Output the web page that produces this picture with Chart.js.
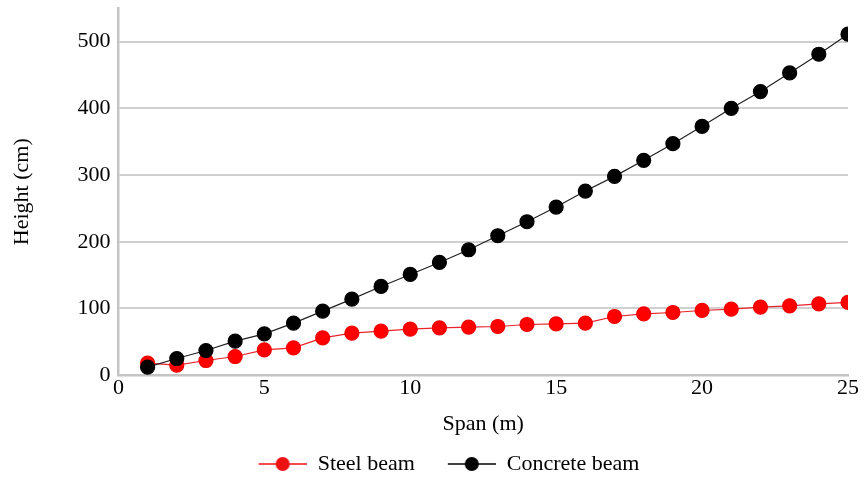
<!DOCTYPE html>
<html>
<head>
<meta charset="utf-8">
<script src="https://cdn.jsdelivr.net/npm/chart.js@4.4.0/dist/chart.umd.min.js"></script>
<style>
  html, body { margin: 0; padding: 0; background: #fff; }
  #wrap { width: 864px; height: 477px; }
</style>
</head>
<body>
<div id="wrap"><canvas id="beamChart" width="864" height="477"></canvas></div>
<script>
const spans = [1, 2, 3, 4, 5, 6, 7, 8, 9, 10, 11, 12, 13, 14, 15, 16, 17, 18, 19, 20, 21, 22, 23, 24, 25];
const steelBeam = [18, 15, 22, 28, 38, 41, 56, 63, 66, 69, 71, 72, 73, 76, 77, 78, 88, 92, 94, 97, 99, 102, 104, 107, 109];
const concreteBeam = [12, 25, 37, 51, 62, 78, 96, 114, 133, 151, 169, 188, 209, 230, 252, 276, 298, 322, 347, 373, 400, 425, 453, 481, 511];
const yTicks = [0, 100, 200, 300, 400, 500];

const serif = "'Liberation Serif', 'Times New Roman', serif";

// line + dot swatch for the legend (blank strip on the left = gap between items)
function legendMark(color) {
    const c = document.createElement('canvas');
    c.width = 78;
    c.height = 16;
    const g = c.getContext('2d');
    g.strokeStyle = color;
    g.lineWidth = 1.5;
    g.beginPath();
    g.moveTo(30, 8);
    g.lineTo(78, 8);
    g.stroke();
    g.fillStyle = color;
    g.beginPath();
    g.arc(54, 8, 7, 0, Math.PI * 2);
    g.fill();
    return c;
}

const ctx = document.getElementById('beamChart').getContext('2d');
new Chart(ctx, {
    type: 'line',
    data: {
        datasets: [{
            label: 'Steel beam',
            data: spans.map((s, i) => ({ x: s, y: steelBeam[i] })),
            borderColor: '#e8232a',
            backgroundColor: '#ff0000',
            pointBorderColor: '#ee0000',
            borderWidth: 1.2,
            pointRadius: 7,
            pointHoverRadius: 7,
            order: 1,
            legendImg: legendMark('#ee1111')
        }, {
            label: 'Concrete beam',
            data: spans.map((s, i) => ({ x: s, y: concreteBeam[i] })),
            borderColor: '#222',
            backgroundColor: '#000',
            pointBorderColor: '#000',
            borderWidth: 1.2,
            pointRadius: 7,
            pointHoverRadius: 7,
            order: 0,
            legendImg: legendMark('#000')
        }]
    },
    options: {
        responsive: false,
        animation: false,
        layout: { padding: { left: 20, right: 16, top: 8, bottom: -8 } },
        plugins: {
            tooltip: { enabled: false },
            legend: {
                position: 'bottom',
                labels: {
                    usePointStyle: true,
                    pointStyleWidth: 78,
                    padding: 3,
                    color: '#000',
                    font: { family: serif, size: 22 },
                    generateLabels: chart => chart.data.datasets.map((ds, i) => ({
                        text: ds.label,
                        pointStyle: ds.legendImg,
                        fillStyle: ds.backgroundColor,
                        strokeStyle: ds.borderColor,
                        lineWidth: 0,
                        fontColor: '#000',
                        datasetIndex: i
                    }))
                }
            }
        },
        scales: {
            x: {
                type: 'linear',
                min: 0,
                max: 25,
                ticks: { stepSize: 5, color: '#000', font: { family: serif, size: 22 }, padding: 0 },
                grid: { display: false, drawTicks: false },
                border: { display: true, color: '#c4c4c4', width: 2.5 },
                title: { display: true, text: 'Span (m)', color: '#000', font: { family: serif, size: 22 }, padding: { top: 9, bottom: 13 } }
            },
            y: {
                type: 'linear',
                min: 0,
                max: 550,
                afterBuildTicks: axis => { axis.ticks = yTicks.map(v => ({ value: v })); },
                afterFit: axis => { axis.paddingTop = 0; },
                ticks: { color: '#000', font: { family: serif, size: 22 }, padding: 8 },
                grid: { color: '#d0d0d0', lineWidth: 2, drawTicks: false },
                border: { display: true, color: '#c4c4c4', width: 2.5 },
                title: { display: true, text: 'Height (cm)', color: '#000', font: { family: serif, size: 22 }, padding: { top: -11, bottom: 34 } }
            }
        }
    }
});
</script>
</body>
</html>
